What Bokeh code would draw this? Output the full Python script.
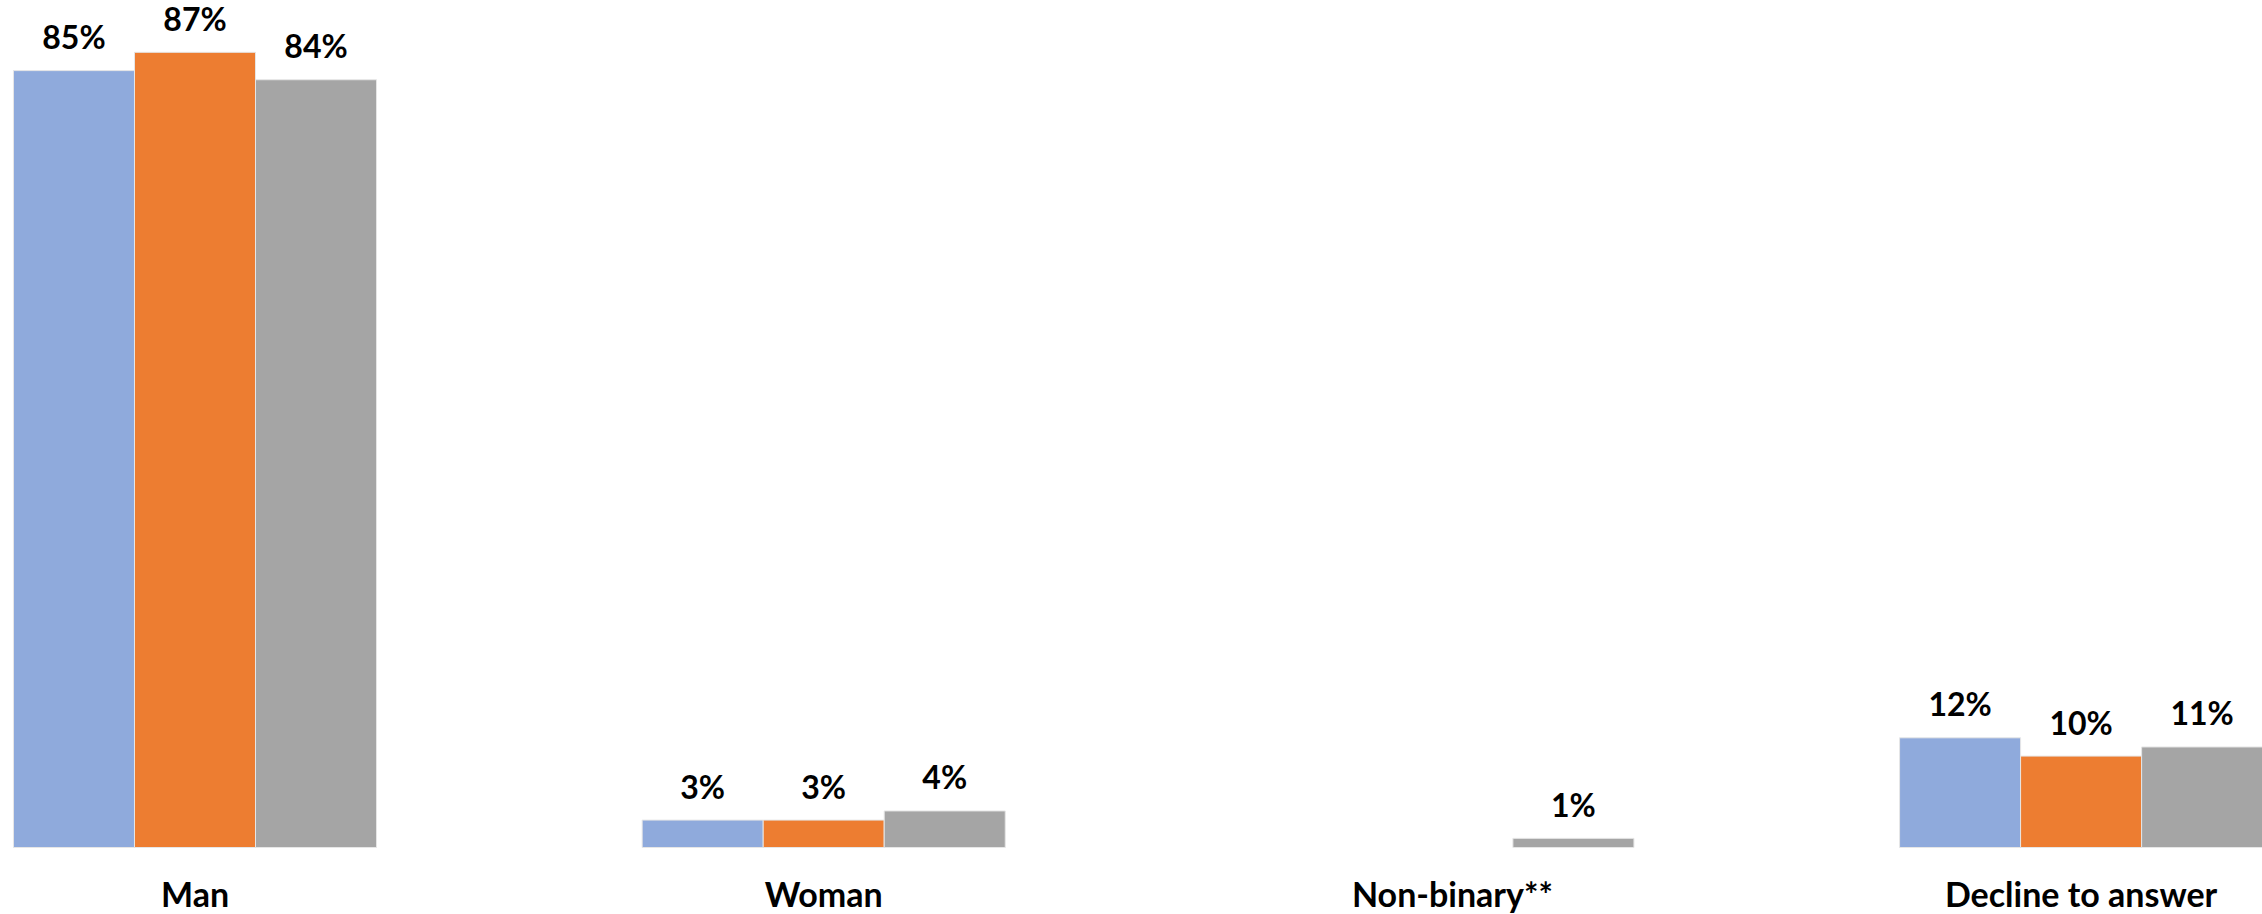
from bokeh.plotting import figure
from bokeh.models import ColumnDataSource, Range1d
from bokeh.core.properties import value
from bokeh.embed import file_html
from bokeh.resources import INLINE

categories = ["Man", "Woman", "Non-binary**", "Decline to answer"]
series_a = [85, 3, None, 12]
series_b = [87, 3, None, 10]
series_c = [84, 4, 1, 11]
series_colors = ["#8FAADC", "#ED7D31", "#A5A5A5"]

FONT = value("Lato")
bar_w = 0.1925
offsets = [-bar_w, 0.0, bar_w]

W, H = 2262, 914
px_per_cat = 628.7
px_per_pct = 9.14
x0 = -194.5 / px_per_cat
y1 = 847 / px_per_pct

p = figure(width=W, height=H, output_backend="svg", toolbar_location=None,
           x_range=Range1d(x0, x0 + W / px_per_cat),
           y_range=Range1d(y1 - H / px_per_pct, y1),
           min_border=0, min_border_left=0, min_border_right=0,
           min_border_top=0, min_border_bottom=0)
p.xaxis.visible = False
p.yaxis.visible = False
p.grid.visible = False
p.outline_line_color = None
p.background_fill_color = "white"
p.border_fill_color = "white"

for vals, off, col in zip([series_a, series_b, series_c], offsets, series_colors):
    xs, ys, labels = [], [], []
    for i, v in enumerate(vals):
        if v is None:
            continue
        xs.append(i + off)
        ys.append(v)
        labels.append(f"{v}%")
    src = ColumnDataSource(dict(x=xs, top=ys, label=labels))
    p.vbar(x="x", top="top", bottom=0, width=bar_w, source=src,
           fill_color=col, line_color="#E6E6E6", line_width=1)
    p.text(x="x", y="top", text="label", source=src, text_font=FONT,
           text_font_style="bold", text_font_size="32px", text_color="black",
           text_align="center", text_baseline="alphabetic", y_offset=-34)

cat_src = ColumnDataSource(dict(x=list(range(len(categories))),
                                y=[0] * len(categories), label=categories))
p.text(x="x", y="y", text="label", source=cat_src, text_font=FONT,
       text_font_style="bold", text_font_size="34px", text_color="black",
       text_align="center", text_baseline="alphabetic", y_offset=46)

open("out.html", "w").write(file_html(p, INLINE))
